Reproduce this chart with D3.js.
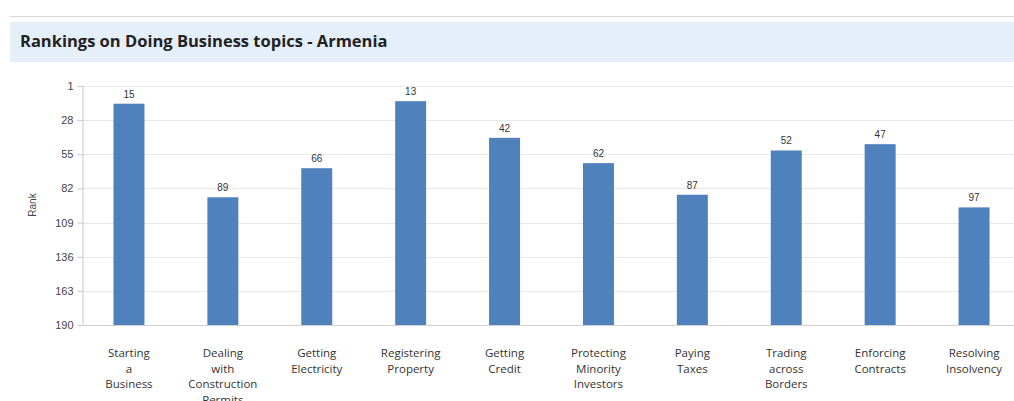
<!DOCTYPE html>
<html>
<head>
<meta charset="utf-8">
<script src="https://cdn.jsdelivr.net/npm/d3@7"></script>
<style>
  body { margin: 0; background: #fff; }
  svg { display: block; }
</style>
</head>
<body>
<svg id="chart" width="1014" height="401"></svg>
<script>
// данные
const topics = [
  ["Starting", "a", "Business"],
  ["Dealing", "with", "Construction", "Permits"],
  ["Getting", "Electricity"],
  ["Registering", "Property"],
  ["Getting", "Credit"],
  ["Protecting", "Minority", "Investors"],
  ["Paying", "Taxes"],
  ["Trading", "across", "Borders"],
  ["Enforcing", "Contracts"],
  ["Resolving", "Insolvency"]
];
const ranks = [15, 89, 66, 13, 42, 62, 87, 52, 47, 97];
const yTicks = [1, 28, 55, 82, 109, 136, 163, 190];

const svg = d3.select("#chart");

// рамка и заголовок
svg.append("line")
  .attr("x1", 10).attr("x2", 1014).attr("y1", 16.5).attr("y2", 16.5)
  .style("stroke", "#d9d9d9");
svg.append("rect")
  .attr("x", 10).attr("y", 22).attr("width", 1004).attr("height", 40)
  .style("fill", "#e5eff9");
svg.append("text")
  .attr("x", 20).attr("y", 47)
  .style("font-family", "'Open Sans', sans-serif")
  .style("font-weight", "bold")
  .style("font-size", "16.5px")
  .style("fill", "#222")
  .text("Rankings on Doing Business topics - Armenia");

const margin = { top: 86, bottom: 325, left: 82, right: 1021 };

const labels = topics.map(d => d.join(" "));
const scaleX = d3.scaleBand()
  .domain(labels)
  .range([margin.left, margin.right])
  .paddingInner(0.67)
  .paddingOuter(0.335);

const scaleY = d3.scaleLinear()
  .domain([1, 190])
  .range([margin.top, margin.bottom]);

// сетка
svg.append("g")
  .selectAll("line")
  .data(yTicks)
  .enter()
  .append("line")
  .attr("x1", margin.left).attr("x2", 1014)
  .attr("y1", d => Math.round(scaleY(d)) + 0.5)
  .attr("y2", d => Math.round(scaleY(d)) + 0.5)
  .style("stroke", d => d === 190 ? "#d0d0d0" : "#e8e8e8");

// ось Y
const yAxis = d3.axisLeft(scaleY).tickValues(yTicks).tickSize(5).tickPadding(4);
const gy = svg.append("g")
  .attr("transform", `translate(${margin.left + 0.5}, 0)`)
  .call(yAxis);
gy.select(".domain").style("stroke", "#c8c8c8");
gy.selectAll(".tick line").style("stroke", "#c8c8c8");
gy.selectAll("text")
  .style("font-family", "'Liberation Sans', Arial, sans-serif")
  .style("font-size", "11px")
  .style("fill", "#444");

svg.append("text")
  .attr("transform", "translate(36, 205) rotate(-90)")
  .style("text-anchor", "middle")
  .style("font-family", "'Liberation Sans', Arial, sans-serif")
  .style("font-size", "10px")
  .style("fill", "#444")
  .text("Rank");

// столбцы
svg.selectAll(".bar")
  .data(ranks)
  .enter()
  .append("rect")
  .attr("x", (d, i) => scaleX(labels[i]))
  .attr("y", d => scaleY(d))
  .attr("width", scaleX.bandwidth())
  .attr("height", d => scaleY(190) - scaleY(d))
  .style("fill", "#4f81bd");

// подписи значений
svg.selectAll(".val")
  .data(ranks)
  .enter()
  .append("text")
  .attr("x", (d, i) => scaleX(labels[i]) + scaleX.bandwidth() / 2)
  .attr("y", d => scaleY(d) - 6)
  .style("text-anchor", "middle")
  .style("font-family", "'Liberation Sans', Arial, sans-serif")
  .style("font-size", "10px")
  .style("fill", "#333")
  .text(d => d);

// подписи категорий
const cat = svg.selectAll(".cat")
  .data(topics)
  .enter()
  .append("text")
  .attr("x", (d, i) => scaleX(labels[i]) + scaleX.bandwidth() / 2)
  .attr("y", 357)
  .style("text-anchor", "middle")
  .style("font-family", "'Open Sans', sans-serif")
  .style("font-size", "11.5px")
  .style("fill", "#333");
cat.selectAll("tspan")
  .data(d => d)
  .enter()
  .append("tspan")
  .attr("x", function () { return d3.select(this.parentNode).attr("x"); })
  .attr("dy", (d, i) => i === 0 ? 0 : 15.5)
  .text(d => d);
</script>
</body>
</html>
